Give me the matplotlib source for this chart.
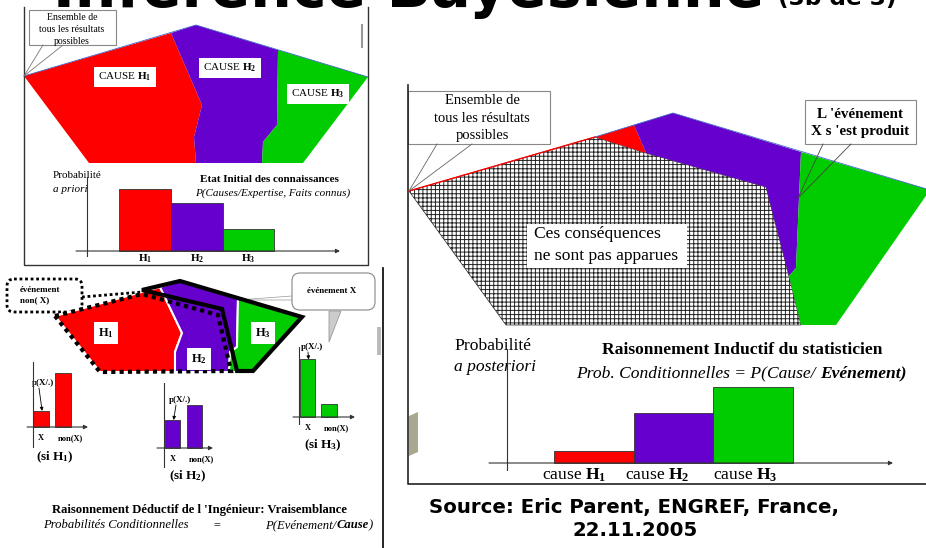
import matplotlib
matplotlib.use('Agg')
import matplotlib.pyplot as plt
from matplotlib.patches import Polygon, Rectangle, FancyBboxPatch

plt.rcParams['hatch.linewidth'] = 0.7
plt.rcParams['mathtext.fontset'] = 'custom'
plt.rcParams['mathtext.rm'] = 'Liberation Serif'
plt.rcParams['mathtext.it'] = 'Liberation Serif:italic'
plt.rcParams['mathtext.bf'] = 'Liberation Serif:bold'

# ---------------- data ----------------
causes = ['H1', 'H2', 'H3']
prior = [0.45, 0.35, 0.16]            # probabilité a priori
posterior = [0.09, 0.36, 0.55]        # probabilité a posteriori
lik_labels = ['X', 'non(X)']
lik_H1 = [0.23, 0.77]                 # p(X / H1), p(non X / H1)
lik_H2 = [0.40, 0.61]
lik_H3 = [0.81, 0.19]

# ---------------- diagram shapes (pixel space) ----------------
p1_red = [(24, 76), (171, 33), (202, 105), (194, 137), (196, 163), (89, 163)]
p1_purple = [(171, 33), (196, 25), (278, 50), (277, 125), (263, 142), (262, 163),
             (196, 163), (194, 137), (202, 105)]
p1_green = [(278, 50), (368, 77), (303, 163), (262, 163), (263, 142), (277, 125)]

p2_red = [(55, 316), (160, 287), (182, 333), (175, 352), (175, 372), (100, 372)]
p2_purple = [(160, 287), (180, 281), (238, 298), (237, 347), (230, 352), (229, 372), (175, 372),
             (175, 352), (182, 333)]
p2_green = [(238, 298), (302, 317), (253, 372), (229, 372), (230, 352), (237, 347)]
p2_eventX = [(142, 290), (180, 281), (302, 317), (253, 371), (237, 371), (222, 309)]
p2_nonX = [(55, 316), (142, 294), (218, 315), (231, 371), (100, 372)]

p3_hatch = [(409, 191), (595, 137), (646, 153), (766, 187), (789, 276), (801, 325), (506, 325)]
p3_red = [(595, 137), (634, 125), (646, 153)]
p3_purple = [(634, 125), (673, 113), (801, 152), (796, 268), (789, 276), (766, 187), (646, 153)]
p3_green = [(801, 152), (930, 190), (836, 325), (801, 325), (789, 276), (796, 268)]

RED, PURPLE, GREEN = '#FF0000', '#6600CC', '#00CC00'
SERIF = 'Liberation Serif'
W, H = 926, 548

fig = plt.figure(figsize=(9.26, 5.48), dpi=100)
ax = fig.add_axes([0, 0, 1, 1])
ax.set_xlim(0, W)
ax.set_ylim(H, 0)
ax.axis('off')
renderer = fig.canvas.get_renderer()


def poly(pts, **kw):
    ax.add_patch(Polygon(pts, closed=True, **kw))


def txt(x, y, s, size, weight='normal', style='normal', ha='center', va='center',
        family=SERIF, **kw):
    return ax.text(x, y, s, fontsize=size, fontweight=weight, fontstyle=style,
                   ha=ha, va=va, family=family, **kw)


def seq(x, y, pieces, size):
    for s, w, st in pieces:
        t = ax.text(x, y, s, fontsize=size, fontweight=w, fontstyle=st, ha='left',
                    va='baseline', family=SERIF)
        x += t.get_window_extent(renderer).width


def line(pts, **kw):
    xs, ys = zip(*pts)
    ax.plot(xs, ys, **kw)


def bar_panel(x0, x1, ytop, ybot, cx0, ux, base, uy, yaxis_x, values, colors, width):
    axb = fig.add_axes([x0 / W, 1 - ybot / H, (x1 - x0) / W, (ybot - ytop) / H])
    xl = ((x0 - cx0) / ux, (x1 - cx0) / ux)
    yl = ((base - ybot) / uy, (base - ytop) / uy)
    axb.set_xlim(*xl)
    axb.set_ylim(*yl)
    axb.axis('off')
    axb.patch.set_visible(False)
    axb.bar(range(len(values)), values, width=width, color=colors,
            edgecolor='#333333', linewidth=0.6, zorder=2)
    axb.annotate('', xy=(xl[1], 0), xytext=(xl[0], 0),
                 arrowprops=dict(arrowstyle='-|>', lw=0.8, color='#333333',
                                 mutation_scale=6, shrinkA=0, shrinkB=0))
    yx = (yaxis_x - cx0) / ux
    axb.plot([yx, yx], [yl[0], yl[1]], color='#333333', lw=0.8, zorder=3)
    return axb


# ---------------- title (cropped at top) ----------------
t = txt(53, 7, 'Inférence Bayésienne', 40, weight='bold', ha='left', va='baseline',
        family='DejaVu Sans')
t.set_fontsize(40 * 710 / t.get_window_extent(renderer).width)
t2 = txt(778, 5, '(3b de 3)', 16, weight='bold', ha='left', va='baseline', family='DejaVu Sans')
t2.set_fontsize(16 * 118 / t2.get_window_extent(renderer).width)

# ---------------- panel 1 ----------------
line([(24, 7), (24, 265), (368, 265), (368, 7)], color='#333333', lw=1.0)
ax.plot([362, 362], [25, 47], color='#999999', lw=1.5)
poly(p1_red, fc=RED, ec='none')
poly(p1_purple, fc=PURPLE, ec='none')
poly(p1_green, fc=GREEN, ec='none')
line([(24, 76), (196, 25), (368, 77)], color='#4466cc', lw=0.6)
ax.add_patch(Rectangle((29, 10), 87, 35, fc='white', ec='#888888', lw=0.8))
line([(43, 45), (24, 76), (63, 45)], color='#777777', lw=0.6)
for yy, s in zip([17, 29, 41], ['Ensemble de', 'tous les résultats', 'possibles']):
    txt(72, yy, s, 7)
box = dict(boxstyle='square,pad=0.35', fc='white', ec='none')
txt(125, 77, r'CAUSE $\mathbf{H}_{\mathbf{1}}$', 8, bbox=box)
txt(230, 68, r'CAUSE $\mathbf{H}_{\mathbf{2}}$', 8, bbox=box)
txt(318, 94, r'CAUSE $\mathbf{H}_{\mathbf{3}}$', 8, bbox=box)
txt(53, 176, 'Probabilité', 8, ha='left')
txt(53, 190, 'a priori', 8, style='italic', ha='left')
txt(269, 179, 'Etat Initial des connaissances', 8, weight='bold')
txt(273, 193, 'P(Causes/Expertise, Faits connus)', 8, style='italic')

a1 = bar_panel(76, 340, 177, 257, 145, 51.7, 251, 137.8, 87, prior,
               [RED, PURPLE, GREEN], 1.0)
for i, c in enumerate(causes):
    a1.text(i, (251 - 259) / 137.8, r'$\mathbf{H}_{\mathbf{%s}}$' % c[1:], fontsize=8,
            ha='center', va='center')

# ---------------- panel 2 ----------------
ax.plot([383, 383], [268, 548], color='black', lw=1.2)
ax.add_patch(Rectangle((377, 327), 4, 28, fc='#bbbbbb', ec='none'))
poly(p2_red, fc=RED, ec='white', lw=1.5, zorder=2)
poly(p2_purple, fc=PURPLE, ec='white', lw=1.5, zorder=2)
poly(p2_green, fc=GREEN, ec='white', lw=1.5, zorder=2)
poly(p2_eventX, fill=False, ec='black', lw=3, joinstyle='miter', zorder=4)
poly(p2_nonX, fill=False, ec='black', lw=3, ls=(0, (1, 1)), zorder=4)
box2 = dict(boxstyle='square,pad=0.3', fc='white', ec='none')
txt(106, 333, r'$\mathbf{H}_{\mathbf{1}}$', 9, bbox=box2, zorder=5)
txt(199, 359, r'$\mathbf{H}_{\mathbf{2}}$', 9, bbox=box2, zorder=5)
txt(263, 333, r'$\mathbf{H}_{\mathbf{3}}$', 9, bbox=box2, zorder=5)

ax.add_patch(FancyBboxPatch((7, 279), 75, 33, boxstyle='round,pad=0,rounding_size=7',
                            fc='white', ec='black', lw=2, ls=(0, (1, 1))))
ax.plot([82, 142], [297, 292], color='black', lw=2, ls=(0, (1, 1)))
txt(20, 290, 'événement', 6.5, weight='bold', ha='left')
txt(20, 300, 'non( X)', 6.5, weight='bold', ha='left')

ax.add_patch(FancyBboxPatch((292, 273), 83, 37, boxstyle='round,pad=0,rounding_size=8',
                            fc='white', ec='#888888', lw=0.8))
txt(332, 291, 'événement X', 6.5, weight='bold')
poly([(329, 311), (341, 311), (329, 342)], fc='#cccccc', ec='#999999', lw=0.6)
line([(292, 296), (238, 300), (292, 300)], color='#999999', lw=0.5)

small = [
    (27, 88, 362, 448, 41, 22, 427, 70, 33, lik_H1, RED, '1', (55, 457), (43, 383)),
    (157, 213, 383, 468, 172.5, 22, 448, 70, 164, lik_H2, PURPLE, '2', (188, 476), (180, 400)),
    (293, 355, 347, 425, 307.5, 21.5, 417, 71, 299, lik_H3, GREEN, '3', (323, 445), (312, 347)),
]
for (x0, x1, yt, yb, cx0, ux, base, uy, yx, vals, col, k, si, pxy) in small:
    ab = bar_panel(x0, x1, yt, yb, cx0, ux, base, uy, yx, vals, [col, col], 0.72)
    ly = (base - (base + 11)) / uy
    ab.text(0, ly, lik_labels[0], fontsize=6, fontweight='bold', ha='center', va='center',
            family=SERIF)
    ab.text(1 + 7 / ux, ly, lik_labels[1], fontsize=6, fontweight='bold', ha='center',
            va='center', family=SERIF)
    txt(si[0], si[1], r'(si $\mathbf{H}_{\mathbf{%s}}$)' % k, 9.5, weight='bold')
    txt(pxy[0], pxy[1], 'p(X/.)', 6.5, weight='bold')
    ab.annotate('', xy=(0.05, vals[0]), xytext=(pxy[0] - 4, pxy[1] + 5),
                textcoords=ax.transData,
                arrowprops=dict(arrowstyle='-|>', lw=0.6, color='black', mutation_scale=5,
                                shrinkA=0, shrinkB=0))

txt(200, 510, "Raisonnement Déductif de l 'Ingénieur: Vraisemblance", 9.1, weight='bold')
txt(43, 528, 'Probabilités Conditionnelles', 9.1, style='italic', ha='left', va='baseline')
txt(217, 528, '=', 9.1, style='italic', ha='center', va='baseline')
seq(265, 528, [('P(Evénement/', 'normal', 'italic'), ('Cause', 'bold', 'italic'),
               (')', 'normal', 'italic')], 9.1)

# ---------------- panel 3 ----------------
line([(408, 85), (408, 484), (926, 484)], color='#222222', lw=1.2)
poly([(409, 416), (418, 412), (418, 452), (409, 456)], fc='#a8a890', ec='none')
poly(p3_hatch, fc='white', ec='#222222', lw=0.5, hatch='++++')
poly(p3_red, fc=RED, ec='none')
poly(p3_purple, fc=PURPLE, ec='none')
poly(p3_green, fc=GREEN, ec='none')
line([(409, 191), (595, 137)], color=RED, lw=1.0)
line([(595, 137), (673, 113), (930, 190)], color='#4466cc', lw=0.6)

ax.add_patch(Rectangle((408, 91), 142, 53, fc='white', ec='#888888', lw=0.8))
line([(437, 144), (409, 191), (472, 144)], color='#666666', lw=0.6)
for yy, s in zip([101, 119, 136], ['Ensemble de', 'tous les résultats', 'possibles']):
    txt(482, yy, s, 10.5)

ax.add_patch(Rectangle((805, 100), 111, 44, fc='white', ec='#888888', lw=0.8))
line([(823, 144), (798, 198), (851, 144)], color='#444444', lw=0.6)
txt(860, 114, "L 'événement", 10.9, weight='bold')
txt(860, 131, "X s 'est produit", 10.9, weight='bold')

ax.add_patch(Rectangle((527, 224), 160, 44, fc='white', ec='none'))
txt(534, 234, 'Ces conséquences', 12.6, ha='left')
txt(534, 256, 'ne sont pas apparues', 12.6, ha='left')

txt(454, 346, 'Probabilité', 12.6, ha='left')
txt(454, 367, 'a posteriori', 12.6, style='italic', ha='left')
txt(742, 350, 'Raisonnement Inductif du statisticien', 12.6, weight='bold')
seq(576, 377, [('Prob. Conditionnelles = P(Cause/ ', 'normal', 'italic'),
               ('Evénement)', 'bold', 'italic')], 12.6)

a3 = bar_panel(489, 893, 349, 471, 594, 79.5, 463, 138, 507, posterior,
               [RED, PURPLE, GREEN], 1.0)
offs = [-20, -16, -8]
for i, c in enumerate(causes):
    a3.text(i + offs[i] / 79.5, (463 - 475) / 138, r'cause $\mathbf{H}_{\mathbf{%s}}$' % c[1:],
            fontsize=12.6, ha='center', va='center', family=SERIF)

# ---------------- source ----------------
s1 = txt(634, 508, 'Source: Eric Parent, ENGREF, France,', 14, weight='bold',
         family='DejaVu Sans')
s1.set_fontsize(14 * 412 / s1.get_window_extent(renderer).width)
txt(635, 530, '22.11.2005', s1.get_fontsize(), weight='bold', family='DejaVu Sans')

fig.savefig('out.png', dpi=100)
